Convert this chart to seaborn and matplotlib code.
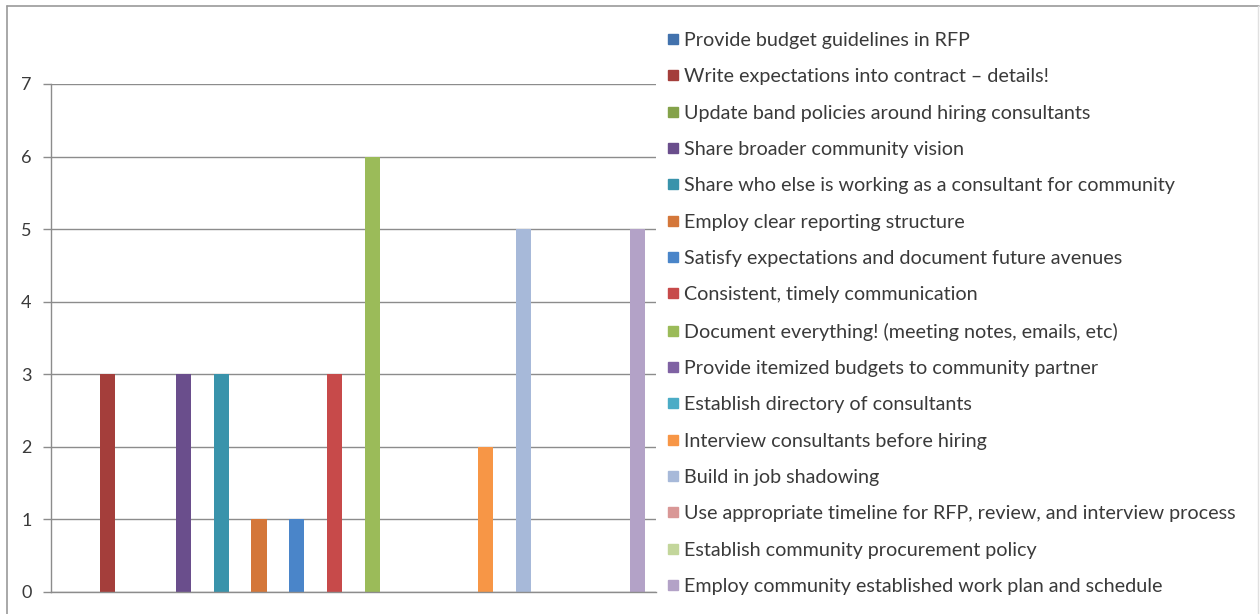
import matplotlib
matplotlib.use("Agg")
import matplotlib.pyplot as plt
import seaborn as sns
import pandas as pd
from matplotlib.lines import Line2D

strategies = [
    "Provide budget guidelines in RFP",
    "Write expectations into contract \u2013 details!",
    "Update band policies around hiring consultants",
    "Share broader community vision",
    "Share who else is working as a consultant for community",
    "Employ clear reporting structure",
    "Satisfy expectations and document future avenues",
    "Consistent, timely communication",
    "Document everything! (meeting notes, emails, etc)",
    "Provide itemized budgets to community partner",
    "Establish directory of consultants",
    "Interview consultants before hiring",
    "Build in job shadowing",
    "Use appropriate timeline for RFP, review, and interview process",
    "Establish community procurement policy",
    "Employ community established work plan and schedule",
]
votes = [0, 3, 0, 3, 3, 1, 1, 3, 6, 0, 0, 2, 5, 0, 0, 5]
y_ticks = [0, 1, 2, 3, 4, 5, 6, 7]

colors = [
    "#4272AD", "#A43E3B", "#84A24A", "#6A4E8C", "#3993AB", "#D4773A",
    "#4A85C9", "#C74A4A", "#9BBB59", "#7F62A3", "#4BACC6", "#F79646",
    "#A7B9D9", "#D99796", "#C3D69B", "#B3A2C7",
]

df = pd.DataFrame({"strategy": strategies, "votes": votes})

sns.set_theme(style="white")
plt.rcParams["font.family"] = ["Lato", "DejaVu Sans"]

fig = plt.figure(figsize=(12.6, 6.14), dpi=100)
ax = fig.add_axes([51 / 1260, 1 - 592 / 614, 605 / 1260, 508 / 614])

sns.barplot(
    data=df, x="strategy", y="votes", hue="strategy",
    hue_order=strategies, order=strategies, palette=colors,
    width=0.4, dodge=False, legend=False, ax=ax, saturation=1,
    linewidth=0,
)

grid_color = "#8C8C8C"
text_color = "#3A3A3A"
ax.set_ylim(0, 7)
ax.set_xlim(-0.5, len(strategies) - 0.5)
ax.set_yticks(y_ticks)
ax.set_yticklabels([str(t) for t in y_ticks], fontsize=13, color=text_color)
ax.set_xticks([])
ax.set_xlabel("")
ax.set_ylabel("")
ax.yaxis.grid(True, color=grid_color, linewidth=1)
ax.set_axisbelow(True)
ax.tick_params(axis="y", length=6, width=1, color=grid_color, pad=8, left=True)
for side in ("top", "right"):
    ax.spines[side].set_visible(False)
ax.spines["left"].set_color(grid_color)
ax.spines["bottom"].set_color(grid_color)
ax.spines["left"].set_linewidth(1)
ax.spines["bottom"].set_linewidth(1)

handles = [
    Line2D([0], [0], marker="s", linestyle="none", markersize=7,
           markerfacecolor=c, markeredgecolor=c)
    for c in colors
]
fig.legend(
    handles, strategies, loc="upper left",
    bbox_to_anchor=(668 / 1260, 1 - 32 / 614),
    frameon=False, fontsize=14.2, labelcolor=text_color,
    handlelength=0.5, handletextpad=0.3, labelspacing=0.98,
    borderaxespad=0, borderpad=0,
)

# outer chart-area border
border = dict(color="#9A9A9A", linewidth=1.2, transform=fig.transFigure)
fig.add_artist(Line2D([7 / 1260, 1259 / 1260], [1 - 6 / 614, 1 - 6 / 614], **border))
fig.add_artist(Line2D([7 / 1260, 7 / 1260], [0, 1 - 6 / 614], **border))
fig.add_artist(Line2D([1258 / 1260, 1258 / 1260], [0, 1 - 6 / 614],
                      color="#E0E0E0", linewidth=1, transform=fig.transFigure))

fig.savefig("out.png", dpi=100)
